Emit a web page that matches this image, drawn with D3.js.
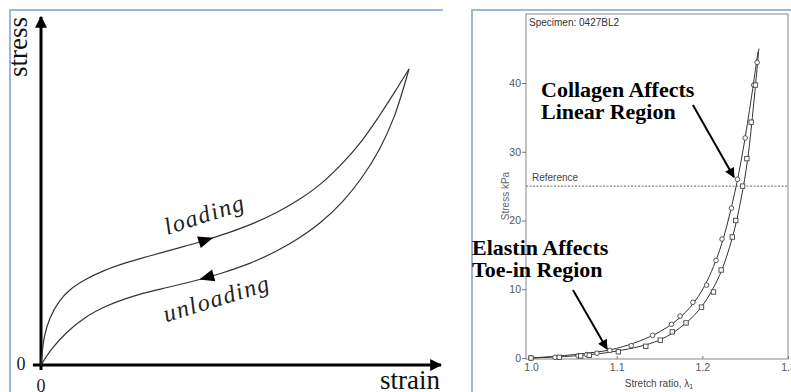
<!DOCTYPE html>
<html>
<head>
<meta charset="utf-8">
<script src="https://cdn.jsdelivr.net/npm/d3@7/dist/d3.min.js"></script>
<style>
  body { margin: 0; background: #fff; }
  svg { display: block; }
</style>
</head>
<body>
<svg id="chart" width="791" height="392"></svg>
<script>
// ---- left panel: loading / unloading sketch (peak of the loop = 1, 1)
var loadStrain = [0, 0.01, 0.025, 0.05, 0.08, 0.12, 0.17, 0.23, 0.30, 0.37, 0.44, 0.51, 0.58, 0.64, 0.70, 0.76, 0.82, 0.87, 0.92, 0.96, 1];
var loadStress = [0, 0.10, 0.16, 0.215, 0.255, 0.288, 0.318, 0.345, 0.370, 0.394, 0.419, 0.447, 0.480, 0.515, 0.558, 0.612, 0.683, 0.755, 0.843, 0.920, 1];
var unloadStrain = [0, 0.03, 0.07, 0.12, 0.18, 0.25, 0.33, 0.41, 0.49, 0.57, 0.64, 0.70, 0.76, 0.82, 0.87, 0.92, 0.96, 1];
var unloadStress = [0, 0.055, 0.110, 0.160, 0.200, 0.232, 0.258, 0.282, 0.310, 0.345, 0.385, 0.428, 0.482, 0.553, 0.630, 0.730, 0.840, 1];
var loadArrowAt = 0.468;    // strain where the arrow tips sit
var unloadArrowAt = 0.43;

// ---- right panel: specimen 0427BL2
var lamTicks = [1.0, 1.1, 1.2, 1.3];
var stressTicks = [0, 10, 20, 30, 40];
var referenceStress = 25;
// measured points, circles (left curve)
var circLam = [1.0, 1.028, 1.055, 1.065, 1.077, 1.092, 1.117, 1.142, 1.164, 1.174, 1.189, 1.205, 1.216, 1.223, 1.234, 1.241, 1.250, 1.260, 1.264];
var circStress = [0, 0.1, 0.3, 0.5, 0.7, 1.1, 1.8, 3.3, 4.9, 6.1, 8.1, 10.6, 14.2, 17.3, 21.8, 26, 32, 39.7, 43];
// measured points, squares (right curve)
var sqLam = [1.0, 1.033, 1.058, 1.068, 1.102, 1.134, 1.151, 1.165, 1.181, 1.199, 1.213, 1.222, 1.235, 1.239, 1.247, 1.252, 1.257, 1.262];
var sqStress = [0, 0.1, 0.3, 0.4, 0.9, 1.7, 2.6, 3.8, 5.1, 7.4, 9.6, 12.8, 17.6, 20, 25, 29, 34.3, 39.7];
// drawn fit lines
var fitALam = [1.0, 1.05, 1.1, 1.15, 1.18, 1.2, 1.22, 1.235, 1.245, 1.255, 1.265];
var fitAStress = [0, 0.5, 1.4, 3.8, 6.6, 9.9, 15.6, 22.5, 28.5, 36, 44.6];
var fitBLam = [1.0, 1.05, 1.1, 1.15, 1.18, 1.2, 1.22, 1.235, 1.245, 1.253, 1.26, 1.266];
var fitBStress = [0, 0.3, 1.0, 2.6, 5.0, 7.6, 12, 17.5, 23, 29, 37, 45];
var labelsA = ["Collagen Affects", "Linear Region"];
var labelsB = ["Elastin Affects", "Toe-in Region"];
var arrowA = [[1.189, 36.8], [1.2369, 26.3]];
var arrowB = [[1.049, 9.9], [1.0887, 1.3]];

var svg = d3.select("#chart");
var frameBlue = "#9db6d9";

var defs = svg.append("defs");
defs.append("marker").attr("id", "axhead")
    .attr("viewBox", "0 0 10 10").attr("refX", 9).attr("refY", 5)
    .attr("markerWidth", 4).attr("markerHeight", 4).attr("markerUnits", "strokeWidth")
    .attr("orient", "auto")
    .append("path").attr("d", "M0,0L10,5L0,10Z").attr("fill", "#000");
defs.append("marker").attr("id", "bighead")
    .attr("viewBox", "0 0 10 10").attr("refX", 9).attr("refY", 5)
    .attr("markerWidth", 6).attr("markerHeight", 5).attr("markerUnits", "strokeWidth")
    .attr("orient", "auto")
    .append("path").attr("d", "M0,0L10,5L0,10Z").attr("fill", "#000");

// panel borders
svg.append("path").attr("d", "M10,392V10H443").attr("fill", "none").attr("stroke", frameBlue).attr("stroke-width", 2);
svg.append("path").attr("d", "M472,392V10H791").attr("fill", "none").attr("stroke", frameBlue).attr("stroke-width", 2);

// ================= left panel =================
var xL = d3.scaleLinear().domain([0, 1]).range([41, 409]);
var yL = d3.scaleLinear().domain([0, 1]).range([365, 69]);
var left = svg.append("g");

left.append("line")
    .attr("x1", xL(-0.022)).attr("x2", xL(1.087))
    .attr("y1", yL(0)).attr("y2", yL(0))
    .attr("stroke", "#000").attr("stroke-width", 3).attr("marker-end", "url(#axhead)");
left.append("line")
    .attr("x1", xL(0)).attr("x2", xL(0))
    .attr("y1", yL(-0.017)).attr("y2", yL(1.176))
    .attr("stroke", "#000").attr("stroke-width", 3).attr("marker-end", "url(#axhead)");

var lineL = d3.line().x(d => xL(d[0])).y(d => yL(d[1])).curve(d3.curveCatmullRom.alpha(0.5));
var loadPts = d3.zip(loadStrain, loadStress);
var unloadPts = d3.zip(unloadStrain, unloadStress);
[loadPts, unloadPts].forEach(function(pts) {
    left.append("path").datum(pts).attr("d", lineL)
        .attr("fill", "none").attr("stroke", "#333").attr("stroke-width", 1.2);
});

// arrow heads on the curves
function onCurve(pts, s) {
    var i = d3.bisector(d => d[0]).left(pts, s);
    var a = pts[Math.max(i - 1, 0)], b = pts[i];
    var t = (s - a[0]) / (b[0] - a[0]);
    return [s, a[1] + t * (b[1] - a[1])];
}
function curveHead(pts, s, dir) {
    var p = onCurve(pts, s), q = onCurve(pts, s - 0.03 * dir);
    var px = xL(p[0]), py = yL(p[1]), qx = xL(q[0]), qy = yL(q[1]);
    var ang = Math.atan2(py - qy, px - qx) * 180 / Math.PI;
    left.append("path").attr("d", "M0,0L-15,-6L-15,6Z")
        .attr("transform", "translate(" + px + "," + py + ") rotate(" + ang + ")")
        .attr("fill", "#000");
}
curveHead(loadPts, loadArrowAt, 1);
curveHead(unloadPts, unloadArrowAt, -1);

var serif = "'Liberation Serif', 'Times New Roman', serif";
left.append("text").attr("transform", "translate(207,222) rotate(-18)")
    .attr("text-anchor", "middle").attr("font-family", serif).attr("font-style", "italic")
    .attr("font-size", 24).attr("letter-spacing", 1.5).attr("fill", "#222").text("loading");
left.append("text").attr("transform", "translate(219,306) rotate(-17)")
    .attr("text-anchor", "middle").attr("font-family", serif).attr("font-style", "italic")
    .attr("font-size", 24).attr("letter-spacing", 1.5).attr("fill", "#222").text("unloading");
left.append("text").attr("transform", "translate(27,47) rotate(-90)")
    .attr("text-anchor", "middle").attr("font-family", serif)
    .attr("font-size", 27).attr("fill", "#111").text("stress");
left.append("text").attr("x", 380).attr("y", 389)
    .attr("font-family", serif).attr("font-size", 27).attr("fill", "#111").text("strain");
left.append("text").attr("x", 21).attr("y", 370).attr("text-anchor", "middle")
    .attr("font-family", serif).attr("font-size", 18).attr("fill", "#222").text("0");
left.append("text").attr("x", xL(0)).attr("y", 392).attr("text-anchor", "middle")
    .attr("font-family", serif).attr("font-size", 18).attr("fill", "#222").text("0");

// ================= right panel =================
var xR = d3.scaleLinear().domain([1.0, 1.3]).range([531, 788]);
var yR = d3.scaleLinear().domain([0, 40]).range([358, 83]);
var right = svg.append("g");
var sans = "'Liberation Sans', Arial, sans-serif";

right.append("rect").attr("x", 526).attr("y", 14).attr("width", 788 - 526).attr("height", 359 - 14)
    .attr("fill", "none").attr("stroke", "#888").attr("stroke-width", 1);

var yAxis = right.append("g").attr("transform", "translate(526,0)")
    .call(d3.axisLeft(yR).tickValues(stressTicks).tickSize(4).tickPadding(1).tickFormat(d3.format("d")));
var xAxis = right.append("g").attr("transform", "translate(0,359)")
    .call(d3.axisBottom(xR).tickValues(lamTicks).tickSizeInner(-3).tickSizeOuter(0).tickPadding(5).tickFormat(d3.format(".1f")));
[yAxis, xAxis].forEach(function(ax) {
    ax.select(".domain").remove();
    ax.selectAll("line").attr("stroke", "#777");
    ax.selectAll("text").attr("font-family", sans).attr("font-size", 10.5).attr("fill", "#555");
});

right.append("line").attr("x1", 526).attr("x2", 788)
    .attr("y1", yR(referenceStress)).attr("y2", yR(referenceStress))
    .attr("stroke", "#666").attr("stroke-width", 1).attr("stroke-dasharray", "2,1.5");
right.append("text").attr("x", 532).attr("y", 181)
    .attr("font-family", sans).attr("font-size", 10).attr("fill", "#444").text("Reference");
right.append("text").attr("x", 529).attr("y", 26)
    .attr("font-family", sans).attr("font-size", 10).attr("fill", "#333").text("Specimen: 0427BL2");
var xl = right.append("text").attr("x", 659).attr("y", 387).attr("text-anchor", "middle")
    .attr("font-family", sans).attr("font-size", 10).attr("fill", "#444");
xl.append("tspan").text("Stretch ratio, \u03bb");
xl.append("tspan").attr("font-size", 7).attr("dy", 2).text("1");
right.append("text").attr("transform", "translate(509,196) rotate(-90)").attr("text-anchor", "middle")
    .attr("font-family", sans).attr("font-size", 10).attr("fill", "#666").text("Stress kPa");

var lineR = d3.line().x(d => xR(d[0])).y(d => yR(d[1])).curve(d3.curveCatmullRom.alpha(0.5));
[d3.zip(fitALam, fitAStress), d3.zip(fitBLam, fitBStress)].forEach(function(pts) {
    right.append("path").datum(pts).attr("d", lineR)
        .attr("fill", "none").attr("stroke", "#333").attr("stroke-width", 1);
});
right.selectAll("circle.pt").data(d3.zip(circLam, circStress)).join("circle")
    .attr("class", "pt").attr("cx", d => xR(d[0])).attr("cy", d => yR(d[1])).attr("r", 2.3)
    .attr("fill", "#fff").attr("stroke", "#444").attr("stroke-width", 0.9);
right.selectAll("rect.pt").data(d3.zip(sqLam, sqStress)).join("rect")
    .attr("class", "pt").attr("x", d => xR(d[0]) - 2.2).attr("y", d => yR(d[1]) - 2.2)
    .attr("width", 4.4).attr("height", 4.4)
    .attr("fill", "#fff").attr("stroke", "#444").attr("stroke-width", 0.9);

// annotations
var bold = right.append("g").attr("font-family", serif).attr("font-weight", "bold")
    .attr("font-size", 22).attr("fill", "#000");
labelsA.forEach(function(t, i) {
    bold.append("text").attr("x", 541).attr("y", 97 + i * 22).text(t);
});
labelsB.forEach(function(t, i) {
    bold.append("text").attr("x", 472).attr("y", 255 + i * 22).text(t);
});
[arrowA, arrowB].forEach(function(a) {
    right.append("line")
        .attr("x1", xR(a[0][0])).attr("y1", yR(a[0][1]))
        .attr("x2", xR(a[1][0])).attr("y2", yR(a[1][1]))
        .attr("stroke", "#000").attr("stroke-width", 2).attr("marker-end", "url(#bighead)");
});
</script>
</body>
</html>
